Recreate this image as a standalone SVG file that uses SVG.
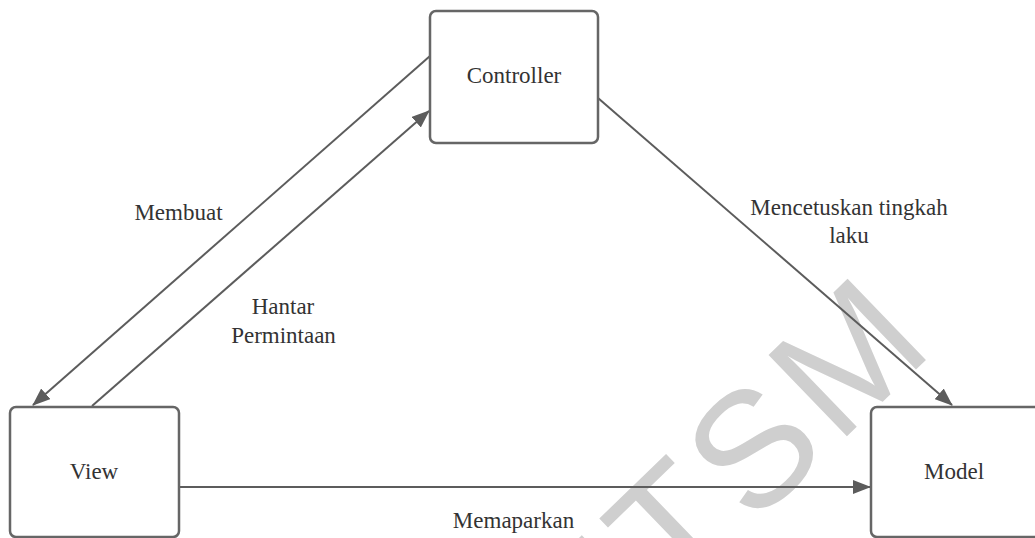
<svg xmlns="http://www.w3.org/2000/svg" width="1035" height="538" viewBox="0 0 1035 538">
  <style>
    .box { fill: #ffffff; stroke: #666666; stroke-width: 2.5; }
    .lbl { font-family: "Liberation Serif", "Times New Roman", serif; font-size: 23px; fill: #333333; text-anchor: middle; }
    .edge { stroke: #5c5c5c; stroke-width: 2; fill: none; marker-end: url(#arrow); }
    .wm { font-family: "Liberation Sans", Arial, sans-serif; font-size: 164px; letter-spacing: 8px; fill: #cfcfcf; }
  </style>
  <defs>
    <marker id="arrow" markerUnits="userSpaceOnUse" markerWidth="18" markerHeight="14" refX="17" refY="7" orient="auto">
      <path d="M0,0 L18,7 L0,14 z" fill="#5c5c5c"/>
    </marker>
  </defs>
  <rect width="1035" height="538" fill="#ffffff"/>
  <g id="watermark">
    <text class="wm" transform="translate(584,690) rotate(-44)">UTSM</text>
  </g>
  <g id="connectors">
    <line class="edge" x1="430" y1="56" x2="33" y2="405"/>
    <line class="edge" x1="92" y1="406" x2="429" y2="111"/>
    <line class="edge" x1="598" y1="98" x2="952" y2="405"/>
    <line class="edge" x1="179" y1="487" x2="870" y2="487"/>
  </g>
  <g id="labels">
    <text class="lbl" x="178.5" y="220">Membuat</text>
    <text class="lbl" x="283" y="314">Hantar</text>
    <text class="lbl" x="283.5" y="343">Permintaan</text>
    <text class="lbl" x="849" y="215">Mencetuskan tingkah</text>
    <text class="lbl" x="849" y="243">laku</text>
    <text class="lbl" x="513.5" y="528">Memaparkan</text>
  </g>
  <g id="controller">
    <rect class="box" x="430" y="11" width="168" height="132" rx="6"/>
    <text class="lbl" x="514" y="83">Controller</text>
  </g>
  <g id="view">
    <rect class="box" x="10" y="407" width="169" height="130" rx="6"/>
    <text class="lbl" x="94" y="479">View</text>
  </g>
  <g id="model">
    <rect class="box" x="871" y="407" width="172" height="130" rx="6"/>
    <text class="lbl" x="954" y="479">Model</text>
  </g>
</svg>
